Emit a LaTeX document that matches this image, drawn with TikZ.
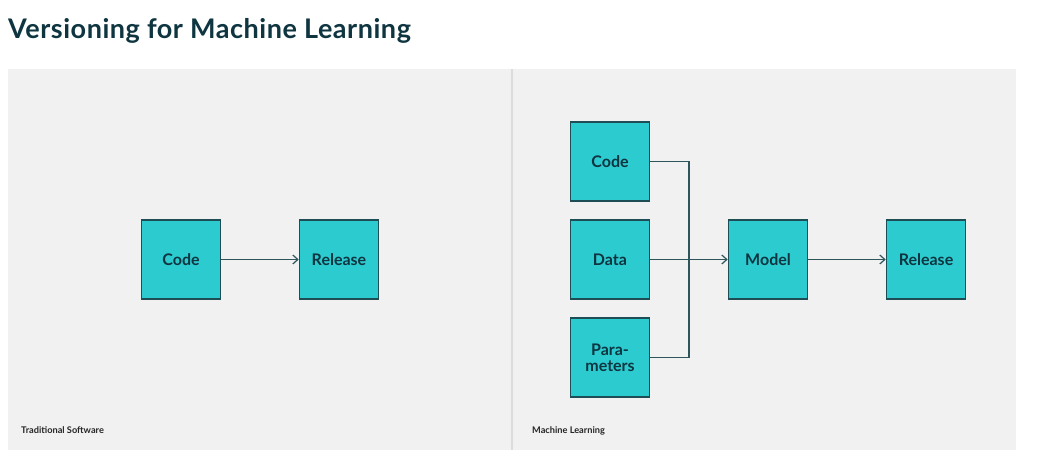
\documentclass[tikz,border=0pt]{standalone}
\usepackage{fontspec}
\setmainfont{Lato}
\usetikzlibrary{arrows.meta}
\definecolor{panel}{HTML}{F1F1F1}
\definecolor{divider}{HTML}{DCDCDC}
\definecolor{boxfill}{HTML}{2CCBD0}
\definecolor{boxline}{HTML}{1E4D55}
\definecolor{ink}{HTML}{0E3540}
\definecolor{wire}{HTML}{2F555C}
\newfontfamily\titlefont[LetterSpace=2]{Lato}
\tikzset{
  box/.style={draw=boxline, line width=1.6pt, fill=boxfill, minimum width=79pt, minimum height=79pt, inner sep=0pt, text=ink, font=\fontsize{16}{16}\selectfont\bfseries, align=center},
  wirestyle/.style={draw=wire, line width=1.2pt},
  arr/.style={wirestyle, -{Straight Barb[length=5pt,width=9pt,line width=1.2pt]}},
  caption/.style={anchor=base west, inner sep=0pt, text=black!85, font=\fontsize{9.2}{11}\selectfont\bfseries}
}
\begin{document}
\begin{tikzpicture}[x=1pt,y=-1pt]
\useasboundingbox (0,0) rectangle (1037,473);
\fill[white] (0,0) rectangle (1037,473);
\fill[panel] (8,69) rectangle (1016,450);
\fill[divider] (511,69) rectangle (513,450);
\node[anchor=base west, inner sep=0pt, text=ink, font=\titlefont\fontsize{27}{30}\selectfont\bfseries] (title) at (8,38.5) {Versioning for Machine Learning};
% Traditional software
\node[box] (tcode) at (181,259.5) {Code};
\node[box] (trel) at (339,259.5) {Release};
\draw[arr] (tcode) -- (trel);
\node[caption] (tcap) at (21,433) {Traditional Software};
% Machine learning
\node[box] (mcode) at (610,161.5) {Code};
\node[box] (mdata) at (610,259.5) {Data};
\node[box] (mpar) at (610,357.5) {Para-\\meters};
\node[box] (model) at (768,259.5) {Model};
\node[box] (mrel) at (926,259.5) {Release};
\coordinate (j) at (689,259.5);
\draw[wirestyle] (mcode.east) -| (j);
\draw[wirestyle] (mpar.east) -| (j);
\draw[arr] (mdata) -- (model);
\draw[arr] (model) -- (mrel);
\node[caption] (mcap) at (532,433) {Machine Learning};
\end{tikzpicture}
\end{document}
